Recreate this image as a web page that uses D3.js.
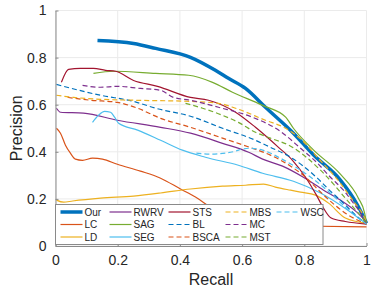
<!DOCTYPE html>
<html>
<head>
<meta charset="utf-8">
<script src="https://cdn.jsdelivr.net/npm/d3@7"></script>
<style>
    body { margin: 0; background: #fff; }
    svg { display: block; font-family: "Liberation Sans", Arial, sans-serif; }
</style>
</head>
<body>
<div id="chart"></div>
<script>
// precision / recall pairs, [recall, precision]
var OUR = [[0.135, 0.873], [0.251, 0.860], [0.322, 0.839], [0.434, 0.801], [0.514, 0.746], [0.556, 0.712],
    [0.611, 0.669], [0.675, 0.589], [0.765, 0.479], [0.830, 0.386], [0.916, 0.280], [0.971, 0.174], [1.0, 0.097]];
var LC = [[0.003, 0.500], [0.016, 0.479], [0.032, 0.428], [0.048, 0.394], [0.064, 0.369], [0.087, 0.364],
    [0.119, 0.373], [0.151, 0.369], [0.199, 0.347], [0.273, 0.318], [0.338, 0.288], [0.402, 0.242],
    [0.450, 0.208], [0.498, 0.165], [0.563, 0.119], [0.643, 0.089], [0.788, 0.085], [1.0, 0.081]];
var LD = [[0.003, 0.195], [0.026, 0.186], [0.055, 0.191], [0.145, 0.203], [0.251, 0.212], [0.338, 0.225],
    [0.434, 0.242], [0.537, 0.254], [0.611, 0.258], [0.669, 0.263], [0.707, 0.250], [0.756, 0.237],
    [0.788, 0.229], [0.836, 0.216], [0.878, 0.182], [0.932, 0.119], [1.0, 0.097]];
var RWRV = [[0.003, 0.585], [0.016, 0.568], [0.090, 0.564], [0.199, 0.534], [0.338, 0.504], [0.434, 0.479],
    [0.537, 0.436], [0.621, 0.398], [0.666, 0.369], [0.730, 0.339], [0.797, 0.292], [0.862, 0.237],
    [0.916, 0.195], [0.965, 0.148], [1.0, 0.102]];
var SAG = [[0.122, 0.733], [0.186, 0.742], [0.322, 0.733], [0.428, 0.725], [0.505, 0.695], [0.569, 0.653],
    [0.666, 0.597], [0.740, 0.547], [0.765, 0.500], [0.830, 0.407], [0.916, 0.305], [0.974, 0.203],
    [0.994, 0.140], [1.0, 0.097]];
var SEG = [[0.119, 0.525], [0.138, 0.555], [0.158, 0.572], [0.177, 0.568], [0.190, 0.547], [0.203, 0.521],
    [0.264, 0.492], [0.338, 0.449], [0.408, 0.407], [0.482, 0.377], [0.588, 0.343], [0.666, 0.309],
    [0.765, 0.275], [0.852, 0.225], [0.939, 0.153], [1.0, 0.093]];
var STS = [[0.019, 0.695], [0.042, 0.750], [0.080, 0.754], [0.122, 0.754], [0.161, 0.746], [0.193, 0.742],
    [0.251, 0.703], [0.328, 0.678], [0.434, 0.631], [0.492, 0.619], [0.579, 0.568], [0.643, 0.504],
    [0.717, 0.419], [0.762, 0.364], [0.804, 0.292], [0.839, 0.216], [0.862, 0.160], [0.885, 0.120],
    [0.932, 0.104], [1.0, 0.093]];
var BL = [[0.003, 0.686], [0.145, 0.640], [0.251, 0.614], [0.322, 0.585], [0.434, 0.551], [0.537, 0.500],
    [0.643, 0.449], [0.691, 0.419], [0.756, 0.377], [0.797, 0.339], [0.842, 0.288], [0.884, 0.233],
    [0.923, 0.186], [0.961, 0.136], [1.0, 0.093]];
var BSCA = [[0.039, 0.631], [0.113, 0.619], [0.199, 0.610], [0.264, 0.585], [0.338, 0.542], [0.434, 0.504],
    [0.537, 0.458], [0.633, 0.415], [0.691, 0.386], [0.756, 0.339], [0.804, 0.292], [0.846, 0.237],
    [0.891, 0.182], [0.936, 0.136], [1.0, 0.093]];
var MBS = [[0.003, 0.640], [0.058, 0.631], [0.145, 0.623], [0.251, 0.619], [0.434, 0.614], [0.524, 0.606],
    [0.579, 0.585], [0.675, 0.534], [0.740, 0.500], [0.788, 0.455], [0.852, 0.362], [0.907, 0.282],
    [0.958, 0.190], [0.990, 0.130], [1.0, 0.100]];
var MC = [[0.087, 0.682], [0.145, 0.674], [0.199, 0.678], [0.273, 0.669], [0.338, 0.661], [0.379, 0.631],
    [0.434, 0.619], [0.524, 0.589], [0.633, 0.547], [0.723, 0.487], [0.788, 0.415], [0.842, 0.352],
    [0.884, 0.292], [0.926, 0.237], [0.958, 0.182], [0.981, 0.140], [1.0, 0.093]];
var MST = [[0.418, 0.606], [0.473, 0.585], [0.537, 0.555], [0.588, 0.525], [0.643, 0.483], [0.691, 0.458],
    [0.756, 0.424], [0.810, 0.373], [0.852, 0.322], [0.894, 0.263], [0.932, 0.203], [0.965, 0.153],
    [0.987, 0.119], [1.0, 0.093]];
var WSC = [[0.453, 0.394], [0.498, 0.390], [0.563, 0.398], [0.621, 0.415], [0.666, 0.407], [0.723, 0.373],
    [0.788, 0.322], [0.842, 0.271], [0.891, 0.216], [0.942, 0.153], [1.0, 0.093]];

var methodNames = ['Our', 'LC', 'LD', 'RWRV', 'SAG', 'SEG', 'STS', 'BL', 'BSCA', 'MBS', 'MC', 'MST', 'WSC'];
var methodData = [OUR, LC, LD, RWRV, SAG, SEG, STS, BL, BSCA, MBS, MC, MST, WSC];
var tickValues = [0, 0.2, 0.4, 0.6, 0.8, 1];
var tickLabels = ['0', '0.2', '0.4', '0.6', '0.8', '1'];

// matlab default colour order, solid first then dashed
var palette = ['#0072BD', '#D95319', '#EDB120', '#7E2F8E', '#77AC30', '#4DBEEE', '#A2142F'];

function seriesStyle(i) {
    if (i === 0) return { color: palette[0], width: 3.5, dash: null };
    if (i < 7) return { color: palette[i], width: 1.2, dash: null };
    return { color: palette[i - 7], width: 1.2, dash: '5,3' };
}

var width = 374, height = 293;
var plot = { left: 55.5, right: 366.5, top: 10.5, bottom: 246 };

var svg = d3.select('#chart').append('svg')
    .attr('width', width)
    .attr('height', height);

var x = d3.scaleLinear().domain([0, 1]).range([plot.left, plot.right]);
var y = d3.scaleLinear().domain([0, 1]).range([plot.bottom, plot.top]);

// ---------------- GRID
var grid = svg.append('g').attr('class', 'grid');
tickValues.forEach(function (t) {
    grid.append('line')
        .attr('x1', x(t)).attr('x2', x(t))
        .attr('y1', plot.top).attr('y2', plot.bottom)
        .attr('stroke', '#ebebeb').attr('stroke-width', 1);
    grid.append('line')
        .attr('x1', plot.left).attr('x2', plot.right)
        .attr('y1', y(t)).attr('y2', y(t))
        .attr('stroke', '#ebebeb').attr('stroke-width', 1);
});

// ---------------- CURVES
var line = d3.line()
    .x(function (d) { return x(d[0]); })
    .y(function (d) { return y(d[1]); })
    .curve(d3.curveMonotoneX);

methodData.forEach(function (data, i) {
    var st = seriesStyle(i);
    svg.append('path')
        .datum(data)
        .attr('d', line)
        .attr('fill', 'none')
        .attr('stroke', st.color)
        .attr('stroke-width', st.width)
        .attr('stroke-dasharray', st.dash)
        .attr('stroke-linejoin', 'round');
});

// ---------------- AXES (inward ticks, matlab style)
var xAxis = d3.axisBottom(x)
    .tickValues(tickValues)
    .tickFormat(function (d, i) { return tickLabels[i]; })
    .tickSizeInner(-3).tickSizeOuter(0).tickPadding(9);
var yAxis = d3.axisLeft(y)
    .tickValues(tickValues)
    .tickFormat(function (d, i) { return tickLabels[i]; })
    .tickSizeInner(-3).tickSizeOuter(0).tickPadding(9);

var gx = svg.append('g')
    .attr('transform', 'translate(0,' + plot.bottom + ')')
    .call(xAxis);
var gy = svg.append('g')
    .attr('transform', 'translate(' + plot.left + ',0)')
    .call(yAxis);

[gx, gy].forEach(function (g) {
    g.select('.domain').attr('stroke', '#8a8a8a');
    g.selectAll('.tick line').attr('stroke', '#8a8a8a');
    g.selectAll('.tick text')
        .attr('fill', '#262626')
        .style('font-size', '14px')
        .style('font-family', '"Liberation Sans", Arial, sans-serif');
});

svg.append('text')
    .attr('x', (plot.left + plot.right) / 2)
    .attr('y', 285)
    .attr('text-anchor', 'middle')
    .attr('fill', '#262626')
    .style('font-size', '16px')
    .text('Recall');

svg.append('text')
    .attr('transform', 'translate(21.5,' + (plot.top + plot.bottom) / 2 + ') rotate(-90)')
    .attr('text-anchor', 'middle')
    .attr('fill', '#262626')
    .style('font-size', '16px')
    .text('Precision');

// ---------------- LEGEND (3 rows, filled column by column)
var legendBox = { x: 55.5, y: 204.5, w: 267.5, h: 40 };
var colOffsets = [5, 54, 113, 170, 221];
var rowOffsets = [7.5, 20, 32.5];

var legend = svg.append('g').attr('class', 'legend');
legend.append('rect')
    .attr('x', legendBox.x).attr('y', legendBox.y)
    .attr('width', legendBox.w).attr('height', legendBox.h)
    .attr('fill', '#fff')
    .attr('stroke', '#8a8a8a').attr('stroke-width', 1);

methodNames.forEach(function (name, i) {
    var st = seriesStyle(i);
    var lx = legendBox.x + colOffsets[Math.floor(i / 3)];
    var ly = legendBox.y + rowOffsets[i % 3];
    legend.append('line')
        .attr('x1', lx).attr('x2', lx + 22)
        .attr('y1', ly).attr('y2', ly)
        .attr('stroke', st.color)
        .attr('stroke-width', st.width)
        .attr('stroke-dasharray', st.dash);
    legend.append('text')
        .attr('x', lx + 24)
        .attr('y', ly + 3.5)
        .attr('fill', '#262626')
        .style('font-size', '10px')
        .text(name);
});
</script>
</body>
</html>
